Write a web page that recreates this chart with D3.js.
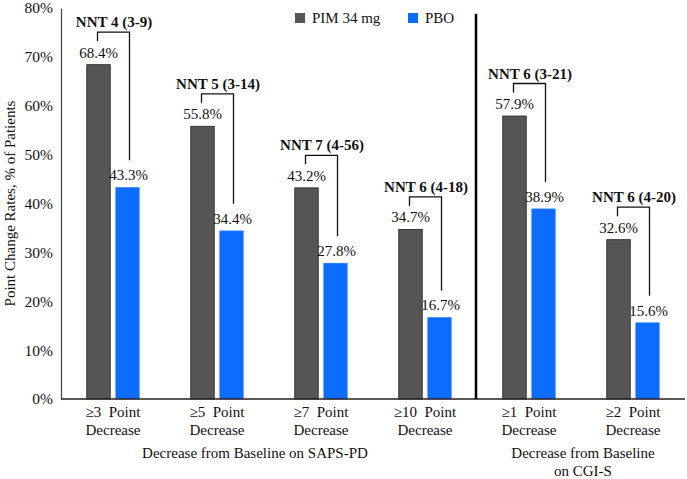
<!DOCTYPE html>
<html>
<head>
<meta charset="utf-8">
<script src="https://cdn.jsdelivr.net/npm/d3@7"></script>
<style>
  body { margin: 0; background: #fff; }
  svg text { fill: #111; white-space: pre; }
</style>
</head>
<body>
<div id="chart"></div>
<script>
// Responder-Raten je Schwelle, PIM 34 mg vs. Placebo
const categories = ["≥3  Point", "≥5  Point", "≥7  Point", "≥10  Point", "≥1  Point", "≥2  Point"];
const pimValues = [68.4, 55.8, 43.2, 34.7, 57.9, 32.6];
const pboValues = [43.3, 34.4, 27.8, 16.7, 38.9, 15.6];
const nntLabels = ["NNT 4 (3-9)", "NNT 5 (3-14)", "NNT 7 (4-56)", "NNT 6 (4-18)", "NNT 6 (3-21)", "NNT 6 (4-20)"];
const yTicks = [0, 10, 20, 30, 40, 50, 60, 70, 80];
const seriesNames = ["PIM 34 mg", "PBO"];
const seriesColors = ["#555555", "#0B6CFF"];

const FONT = '"Liberation Serif"';
const W = 687, H = 479;
const M = { top: 8, right: 2, bottom: 80, left: 61 };
const BAR_W = 23.5;
const BAR_GAP = 5.5;

const svg = d3.select("#chart").append("svg")
  .attr("width", W).attr("height", H);

function txt(sel, size, weight) {
  return sel.style("font-family", FONT)
    .attr("font-size", size).attr("font-weight", weight || "normal");
}

const x = d3.scaleBand()
  .domain(d3.range(categories.length))
  .range([M.left, W - M.right]);

const y = d3.scaleLinear()
  .domain([0, 80])
  .range([H - M.bottom, M.top]);

// Y-Achse (nur Labels und Linie)
const yAxis = svg.append("g")
  .attr("transform", `translate(${M.left},0)`)
  .call(d3.axisLeft(y).tickValues(yTicks).tickSize(0).tickPadding(8).tickFormat(d => d + "%"));
yAxis.attr("font-family", null);
yAxis.select(".domain").attr("stroke", "#444").attr("stroke-width", 1.2);
txt(yAxis.selectAll("text"), 15.5).attr("fill", "#111");

txt(svg.append("text"), 15)
  .attr("transform", `translate(15, ${y(40)}) rotate(-90)`)
  .attr("text-anchor", "middle")
  .text("Point Change Rates, % of Patients");

// Balken
const groups = svg.append("g").selectAll("g")
  .data(categories)
  .join("g");

function pimX(i) { return x(i) + x.bandwidth() / 2 - BAR_GAP / 2 - BAR_W; }
function pboX(i) { return x(i) + x.bandwidth() / 2 + BAR_GAP / 2; }

groups.append("rect")
  .attr("x", (d, i) => pimX(i))
  .attr("y", (d, i) => y(pimValues[i]))
  .attr("width", BAR_W)
  .attr("height", (d, i) => y(0) - y(pimValues[i]))
  .attr("fill", seriesColors[0])
  .attr("stroke", "#222").attr("stroke-width", 0.8);

groups.append("rect")
  .attr("x", (d, i) => pboX(i))
  .attr("y", (d, i) => y(pboValues[i]))
  .attr("width", BAR_W)
  .attr("height", (d, i) => y(0) - y(pboValues[i]))
  .attr("fill", seriesColors[1])
  .attr("stroke", "#3d86ff").attr("stroke-width", 0.6);

// Werte
txt(groups.append("text"), 15)
  .attr("text-anchor", "middle")
  .attr("x", (d, i) => pimX(i) + BAR_W / 2)
  .attr("y", (d, i) => y(pimValues[i]) - 7)
  .text((d, i) => pimValues[i].toFixed(1) + "%");

txt(groups.append("text"), 15)
  .attr("text-anchor", "middle")
  .attr("x", (d, i) => pboX(i) + BAR_W / 2 + 1)
  .attr("y", (d, i) => y(pboValues[i]) - 7)
  .text((d, i) => pboValues[i].toFixed(1) + "%");

// NNT-Klammern
groups.append("path")
  .attr("fill", "none")
  .attr("stroke", "#111")
  .attr("stroke-width", 1.3)
  .attr("d", (d, i) => {
    const top = y(pimValues[i]) - 32.5;
    const xl = pimX(i) + BAR_W / 2 - 1;
    const xr = pboX(i) + BAR_W / 2 + 2;
    const bottom = y(pboValues[i]) - 27;
    return `M${xl},${top + 9}V${top}H${xr}V${bottom}`;
  });

txt(groups.append("text"), 15, "bold")
  .attr("text-anchor", "middle")
  .attr("x", (d, i) => x(i) + x.bandwidth() / 2 + 1)
  .attr("y", (d, i) => y(pimValues[i]) - 37.5)
  .text((d, i) => nntLabels[i]);

// X-Achse
svg.append("line")
  .attr("x1", M.left).attr("x2", W - M.right)
  .attr("y1", y(0)).attr("y2", y(0))
  .attr("stroke", "#222").attr("stroke-width", 1.5);

txt(groups.append("text"), 15)
  .attr("text-anchor", "middle")
  .attr("x", (d, i) => x(i) + x.bandwidth() / 2)
  .attr("y", y(0) + 18)
  .text(d => d);

txt(groups.append("text"), 15)
  .attr("text-anchor", "middle")
  .attr("x", (d, i) => x(i) + x.bandwidth() / 2)
  .attr("y", y(0) + 36)
  .text("Decrease");

// Trennlinie SAPS-PD / CGI-S
svg.append("line")
  .attr("x1", x(4) - 1).attr("x2", x(4) - 1)
  .attr("y1", y(0)).attr("y2", y(78.8))
  .attr("stroke", "#000").attr("stroke-width", 2.5);

txt(svg.append("text"), 15)
  .attr("text-anchor", "middle")
  .attr("x", (x(0) + x(3) + x.bandwidth()) / 2 - 14)
  .attr("y", y(0) + 59)
  .text("Decrease from Baseline on SAPS-PD");

const cgiX = (x(4) + x(5) + x.bandwidth()) / 2 + 2;
txt(svg.append("text"), 15)
  .attr("text-anchor", "middle")
  .attr("x", cgiX)
  .attr("y", y(0) + 59)
  .text("Decrease from Baseline");
txt(svg.append("text"), 15)
  .attr("text-anchor", "middle")
  .attr("x", cgiX)
  .attr("y", y(0) + 77)
  .text("on CGI-S");

// Legende
const legend = svg.append("g").attr("transform", "translate(295, 13)");
const legX = [0, 113];
seriesNames.forEach((name, i) => {
  legend.append("rect")
    .attr("x", legX[i]).attr("y", 0)
    .attr("width", 10).attr("height", 10)
    .attr("fill", seriesColors[i]);
  txt(legend.append("text"), 15)
    .attr("x", legX[i] + 17).attr("y", 10)
    .text(name);
});
</script>
</body>
</html>
